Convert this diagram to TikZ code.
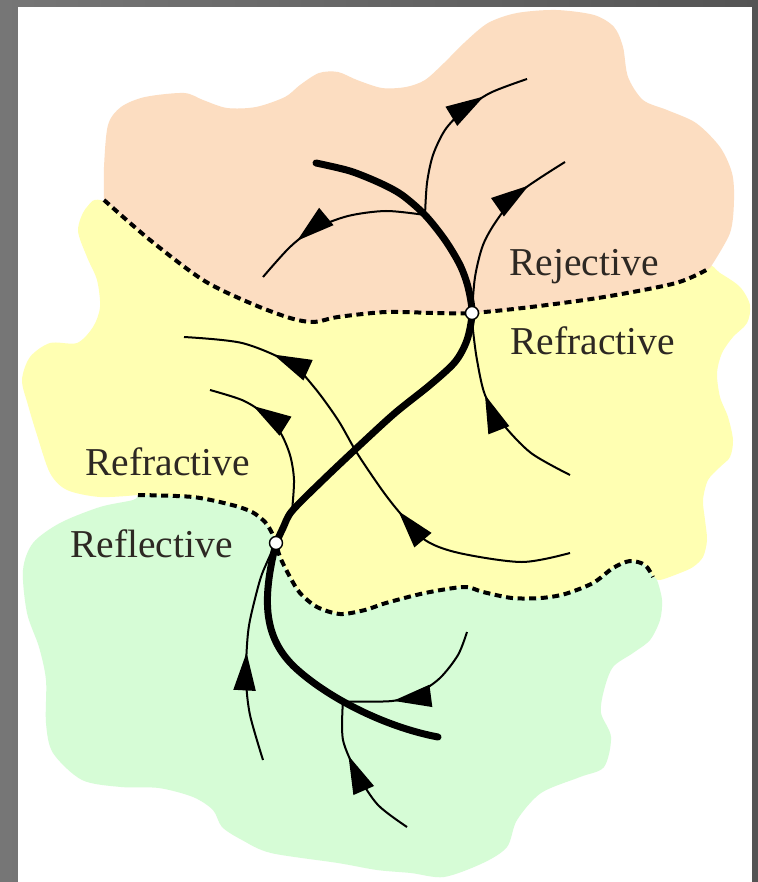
\documentclass[tikz,border=0pt]{standalone}
\usepackage{fontspec}
\setmainfont{Liberation Serif}
\usetikzlibrary{arrows.meta,decorations.markings}
\definecolor{peach}{RGB}{252,221,193}
\definecolor{lyellow}{RGB}{255,255,178}
\definecolor{lgreen}{RGB}{214,252,214}
\definecolor{txt}{RGB}{45,40,35}
\definecolor{frameL}{RGB}{118,118,118}
\definecolor{frameR}{RGB}{84,84,84}
\tikzset{
 thickline/.style={line width=3.5pt, line cap=round},
 thinline/.style={line width=1pt},
 boundary/.style={line width=2pt, dash pattern=on 3.5pt off 2.3pt},
 junction/.style={circle, fill=white, draw=black, line width=0.7pt, inner sep=0pt, minimum size=6.5pt},
 lbl/.style={font=\fontsize{19.75pt}{22pt}\selectfont, text=txt, anchor=base west, inner sep=0pt},
 arrowat/.style={postaction={decorate, decoration={markings, mark=at position #1 with {\arrow{Triangle[length=19pt,width=11pt]}}}}},
}
\begin{document}
\begin{tikzpicture}[x=0.5pt,y=-0.5pt]
\useasboundingbox (0,0) rectangle (758,882);
\shade[left color=frameL, right color=frameR] (0,0) rectangle (758,882);
\fill[white] (18,7) rectangle (752,882);

% regions
\fill[lyellow] plot[smooth] coordinates {(653,577) (660,580) (680,573) (693,567) (703,557) (707,540) (705,520) (703,500) (708,480) (720,467) (730,457) (733,440) (728,417) (720,397) (717,373) (722,353) (733,337) (747,323) (750,305) (740,287) (720,273) (700,262) (600,250) (400,250) (200,250) (107,202) (87,207) (78,230) (87,257) (97,280) (100,307) (93,327) (77,343) (50,343) (30,357) (22,380) (28,405) (37,435) (50,473) (67,490) (100,497) (138,495)}
 -- plot[smooth] coordinates {(138,495) (193,497) (232,505) (252,512) (265,522) (272,533) (276,543) (280,557) (290,577) (300,593) (317,607) (340,614) (365,610) (386,603) (425,593) (464,587) (483,592) (512,598) (541,598) (565,594) (593,583) (613,568) (630,561) (645,565) (653,577)} -- cycle;

\fill[peach] plot[smooth] coordinates {(104,200) (104,167) (108,125) (121,107) (145,97) (184,93) (203,100) (227,108) (256,107) (285,97) (300,85) (319,73) (338,72) (357,80) (382,88) (406,87) (425,80) (444,63) (464,43) (488,23) (517,13) (556,10) (594,15) (614,27) (623,47) (628,77) (643,100) (667,110) (696,123) (720,147) (732,173) (734,200) (730,233) (710,268)}
 -- plot[smooth] coordinates {(710,268) (676,283) (604,297) (531,307) (472,313) (435,313) (386,312) (338,317) (314,322) (290,318) (250,303) (203,280) (150,240) (104,200)} -- cycle;

\fill[lgreen] plot[smooth] coordinates {(138,495) (193,497) (232,505) (252,512) (265,522) (272,533) (276,543) (280,557) (290,577) (300,593) (317,607) (340,614) (365,610) (386,603) (425,593) (464,587) (483,592) (512,598) (541,598) (565,594) (593,583) (613,568) (630,561) (645,565) (653,577)}
 -- plot[smooth] coordinates {(653,577) (657,580) (662,600) (660,620) (650,640) (633,653) (613,667) (604,690) (601,713) (611,737) (604,767) (580,777) (541,793) (517,820) (507,847) (483,863) (444,877) (411,873) (377,870) (338,863) (271,853) (242,840) (222,827) (213,810) (193,797) (159,788) (121,787) (82,780) (53,753) (46,723) (46,680) (39,647) (27,613) (23,570) (33,543) (60,523) (100,507) (133,500) (138,495)} -- cycle;

% boundaries
\draw[boundary] plot[smooth] coordinates {(104,200) (150,240) (203,280) (250,303) (290,318) (314,322) (338,317) (386,312) (435,313) (472,313) (531,307) (604,297) (676,283) (710,268)};
\draw[boundary] plot[smooth] coordinates {(138,495) (193,497) (232,505) (252,512) (265,522) (272,533) (276,543) (280,557) (290,577) (300,593) (317,607) (340,614) (365,610) (386,603) (425,593) (464,587) (483,592) (512,598) (541,598) (565,594) (593,583) (613,568) (630,561) (645,565) (653,577)};

% key points
\coordinate (n1) at (472,313);
\coordinate (n2) at (276,543);
\coordinate (j1) at (425,215);
\coordinate (j2) at (292,511);
\coordinate (tend) at (438,737);
\path (n2) .. controls (262,600) and (262,640) .. (300,672) .. controls (335,702) and (390,728) .. coordinate[pos=0.35] (j3) (tend);

% thin rays
\draw[thinline, arrowat=0.75] plot[smooth] coordinates {(j1) (427,183) (433,155) (445,130) (462,112) (490,93) (527,79)};
\draw[thinline, arrowat=0.73] plot[smooth] coordinates {(j1) (386,211) (348,216) (314,229) (290,247) (263,277)};
\draw[thinline, arrowat=0.77] plot[smooth] coordinates {(n1) (475,277) (483,245) (497,220) (520,192) (565,162)};
\draw[thinline, arrowat=0.59] plot[smooth] coordinates {(570,475) (531,453) (502,423) (485,395) (477,360) (473,330) (n1)};
\draw[thinline, arrowat=0.39, arrowat=0.81] plot[smooth] coordinates {(570,553) (522,562) (459,553) (425,540) (400,513) (382,490) (357,453) (338,420) (314,387) (290,363) (242,343) (184,337)};
\draw[thinline, arrowat=0.72] plot[smooth] coordinates {(j2) (294,480) (290,455) (280,432) (263,413) (242,400) (210,390)};
\draw[thinline, arrowat=0.49] plot[smooth] coordinates {(263,760) (250,715) (246,680) (247,645) (250,620) (260,580) (268,560) (n2)};
\draw[thinline, arrowat=0.68] plot[smooth] coordinates {(467,632) (458,655) (440,678) (418,693) (392,701) (j3)};
\draw[thinline, arrowat=0.63] plot[smooth] coordinates {(407,827) (378,805) (358,775) (343,740) (j3)};

% thick characteristic
\draw[thickline] plot[smooth] coordinates {(316,163) (350,171) (380,183) (402,195) (j1) (445,240) (460,265) (468,287) (n1) (467,340) (455,362) (430,385) (395,413) (360,445) (323,480) (j2) (283,528) (n2)};
\draw[thickline] (n2) .. controls (262,600) and (262,640) .. (300,672) .. controls (335,702) and (390,728) .. (tend);

% junction markers
\node[junction] (N1) at (n1) {};
\node[junction] (N2) at (n2) {};

% labels
\node[lbl] (rej) at (509,275) {Rejective};
\node[lbl] (refr1) at (510,354) {Refractive};
\node[lbl] (refr2) at (85,475) {Refractive};
\node[lbl] (refl) at (70,557) {Reflective};
\end{tikzpicture}
\end{document}
